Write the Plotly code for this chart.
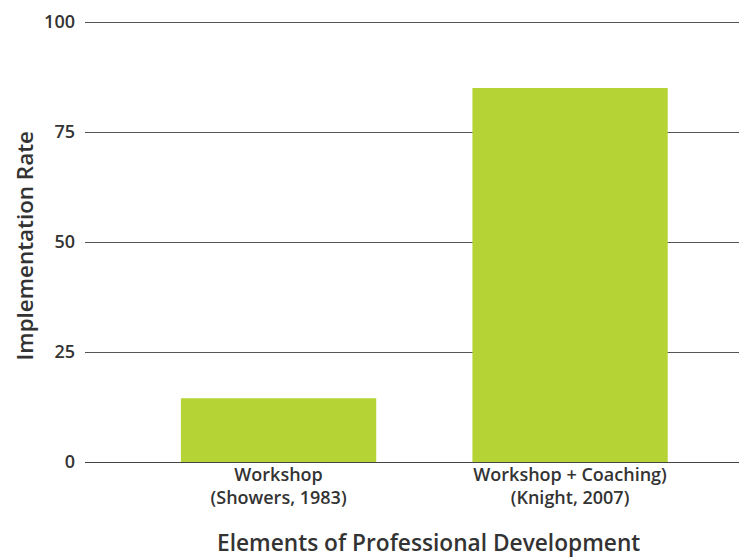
import plotly.graph_objects as go

categories = ["Workshop<br>(Showers, 1983)", "Workshop + Coaching)<br>(Knight, 2007)"]
values = [14.5, 85]
y_ticks = [0, 25, 50, 75, 100]

FONT = "Open Sans"
TXT = "#333333"
fig = go.Figure(go.Bar(
    x=[0, 1], y=values, marker_color="#b5d334", width=0.67,
    marker_line_width=0,
))
fig.update_layout(
    width=739, height=551,
    margin=dict(l=77, r=0, t=13, b=97),
    plot_bgcolor="white", paper_bgcolor="white",
    showlegend=False,
    font=dict(family=FONT, color=TXT),
    annotations=[
        dict(text="Elements of Professional Development", xref="paper", yref="paper",
             x=0.5196, y=0, yshift=-80, xanchor="center", yanchor="middle",
             showarrow=False, font=dict(size=22.7, family=FONT, weight=600, color=TXT)),
        dict(text="Implementation Rate", xref="paper", yref="paper",
             x=-0.0921, y=0.4886, textangle=-90, xanchor="center", yanchor="middle",
             showarrow=False, font=dict(size=22.4, family=FONT, weight=600, color=TXT)),
    ],
)
fig.update_xaxes(
    range=[-0.664, 1.607], automargin=False,
    tickmode="array", tickvals=[0, 1], ticktext=categories,
    tickfont=dict(size=18, family=FONT, weight=600, color=TXT),
    showgrid=False, zeroline=False, showline=False, ticks="",
)
fig.update_yaxes(
    range=[0, 100.25], automargin=False,
    tickmode="array", tickvals=y_ticks,
    tickfont=dict(size=18, family=FONT, weight=600, color=TXT),
    showgrid=True, gridcolor="#555555", gridwidth=1,
    zeroline=True, zerolinecolor="#444444", zerolinewidth=1,
    showline=False, ticks="", ticklabelstandoff=9,
)
fig.write_html("out.html")
